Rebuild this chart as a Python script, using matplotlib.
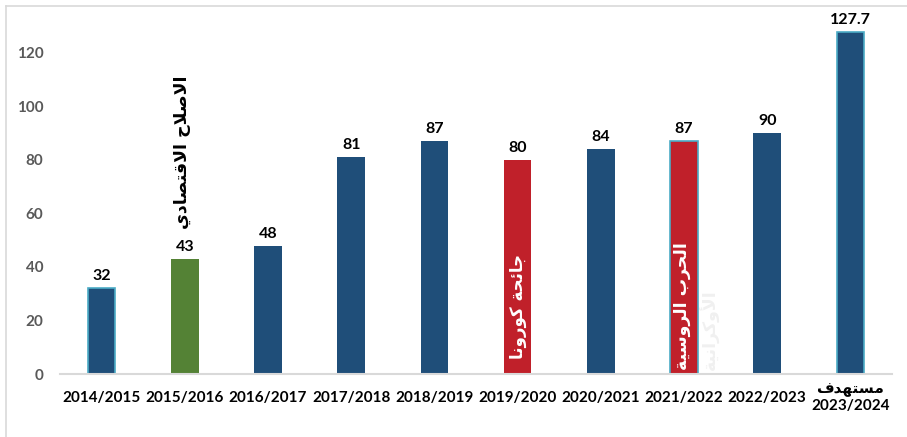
import matplotlib.pyplot as plt
from matplotlib.lines import Line2D

# أشكال الحروف: (منفصل، نهائي، ابتدائي، وسطي)
FORMS = {
    'ا': ('\uFE8D', '\uFE8E', None, None),
    'أ': ('\uFE83', '\uFE84', None, None),
    'ب': ('\uFE8F', '\uFE90', '\uFE91', '\uFE92'),
    'ة': ('\uFE93', '\uFE94', None, None),
    'ت': ('\uFE95', '\uFE96', '\uFE97', '\uFE98'),
    'ج': ('\uFE9D', '\uFE9E', '\uFE9F', '\uFEA0'),
    'ح': ('\uFEA1', '\uFEA2', '\uFEA3', '\uFEA4'),
    'د': ('\uFEA9', '\uFEAA', None, None),
    'ر': ('\uFEAD', '\uFEAE', None, None),
    'س': ('\uFEB1', '\uFEB2', '\uFEB3', '\uFEB4'),
    'ص': ('\uFEB9', '\uFEBA', '\uFEBB', '\uFEBC'),
    'ف': ('\uFED1', '\uFED2', '\uFED3', '\uFED4'),
    'ق': ('\uFED5', '\uFED6', '\uFED7', '\uFED8'),
    'ك': ('\uFED9', '\uFEDA', '\uFEDB', '\uFEDC'),
    'ل': ('\uFEDD', '\uFEDE', '\uFEDF', '\uFEE0'),
    'م': ('\uFEE1', '\uFEE2', '\uFEE3', '\uFEE4'),
    'ن': ('\uFEE5', '\uFEE6', '\uFEE7', '\uFEE8'),
    'ه': ('\uFEE9', '\uFEEA', '\uFEEB', '\uFEEC'),
    'و': ('\uFEED', '\uFEEE', None, None),
    'ي': ('\uFEF1', '\uFEF2', '\uFEF3', '\uFEF4'),
    'ئ': ('\uFE89', '\uFE8A', '\uFE8B', '\uFE8C'),
}
LAM_ALEF = {'ا': ('\uFEFB', '\uFEFC'), 'أ': ('\uFEF7', '\uFEF8')}


def joins_forward(ch):
    return ch in FORMS and FORMS[ch][2] is not None


def shape_line(text):
    # سطر عربي فقط: أشكال العرض ثم عكس الترتيب للرسم من اليسار
    if not any(ch in FORMS for ch in text):
        return text
    out = []
    i = 0
    while i < len(text):
        ch = text[i]
        if ch not in FORMS:
            out.append(ch)
            i += 1
            continue
        prev = text[i - 1] if i > 0 else ''
        nxt = text[i + 1] if i + 1 < len(text) else ''
        before = joins_forward(prev)
        if ch == 'ل' and nxt in LAM_ALEF:
            out.append(LAM_ALEF[nxt][1 if before else 0])
            i += 2
            continue
        after = joins_forward(ch) and nxt in FORMS
        iso, fin, ini, med = FORMS[ch]
        if before and after:
            out.append(med)
        elif before:
            out.append(fin)
        elif after:
            out.append(ini)
        else:
            out.append(iso)
        i += 1
    return ''.join(reversed(out))


def shape(text):
    return '\n'.join(shape_line(line) for line in text.split('\n'))


years = ['2014/2015', '2015/2016', '2016/2017', '2017/2018', '2018/2019',
         '2019/2020', '2020/2021', '2021/2022', '2022/2023', 'مستهدف\n2023/2024']
values = [32, 43, 48, 81, 87, 80, 84, 87, 90, 127.7]
value_labels = ['32', '43', '48', '81', '87', '80', '84', '87', '90', '127.7']
colors = ['#1f4e79', '#548235', '#1f4e79', '#1f4e79', '#1f4e79',
          '#c0202a', '#1f4e79', '#c0202a', '#1f4e79', '#1f4e79']
edges = ['#4bacc6', 'none', 'none', 'none', 'none',
         'none', 'none', '#4bacc6', 'none', '#4bacc6']

reform_note = 'الاصلاح الاقتصادي'
covid_note = 'جائحة كورونا'
war_note = 'الحرب الروسية'
war_note2 = 'الأوكرانية'

fig = plt.figure(figsize=(9.07, 4.37), dpi=100)
ax = fig.add_axes([60 / 907, 63 / 437, 832 / 907, 364 / 437])

x = list(range(len(years)))
ax.bar(x, values, width=0.33, color=colors, edgecolor=edges, linewidth=1.2)

for xi, v, lab in zip(x, values, value_labels):
    ax.annotate(lab, (xi, v), xytext=(0, 5), textcoords='offset pixels',
                ha='center', va='bottom', fontsize=11.5, fontweight='bold',
                family=['Lato', 'DejaVu Sans'], color='black')

# ملاحظات عمودية على الأعمدة
ax.text(0.97, 54, shape(reform_note), rotation=90, ha='center', va='bottom',
        fontsize=12.5, fontweight='bold', family='DejaVu Sans', color='black')
ax.text(5.0, 5.5, shape(covid_note), rotation=90, ha='center', va='bottom',
        fontsize=12, fontweight='bold', family='DejaVu Sans', color='white')
ax.text(6.98, 1.5, shape(war_note), rotation=90, ha='center', va='bottom',
        fontsize=12.5, fontweight='bold', family='DejaVu Sans', color='white')
ax.text(7.31, 1.5, shape(war_note2), rotation=90, ha='center', va='bottom',
        fontsize=12.5, fontweight='bold', family='DejaVu Sans', color='#f0f0f0')

ax.set_xlim(-0.5, len(years) - 0.5)
ax.set_ylim(0, 136)
ax.set_yticks(range(0, 121, 20))
ax.set_xticks(x)
ax.set_xticklabels([shape(y) for y in years])

for side in ['top', 'right', 'left']:
    ax.spines[side].set_visible(False)
ax.spines['bottom'].set_color('#d9d9d9')
ax.spines['bottom'].set_linewidth(1.5)

ax.tick_params(axis='y', length=0, pad=12, labelsize=11, labelcolor='#595959')
ax.tick_params(axis='x', length=0, pad=17, labelsize=11, labelcolor='black')
for lbl in ax.get_yticklabels():
    lbl.set_fontweight('bold')
    lbl.set_family(['Lato', 'DejaVu Sans'])
for lbl in ax.get_xticklabels():
    lbl.set_fontweight('bold')
    lbl.set_family(['Lato', 'DejaVu Sans'])
    lbl.set_va('center')

# إطار منطقة الرسم
fig.add_artist(Line2D([6 / 907, 1], [431 / 437, 431 / 437], color='#d9d9d9', lw=1.2))
fig.add_artist(Line2D([6 / 907, 6 / 907], [0, 431 / 437], color='#d9d9d9', lw=1.2))

fig.savefig('out.png', dpi=100)
